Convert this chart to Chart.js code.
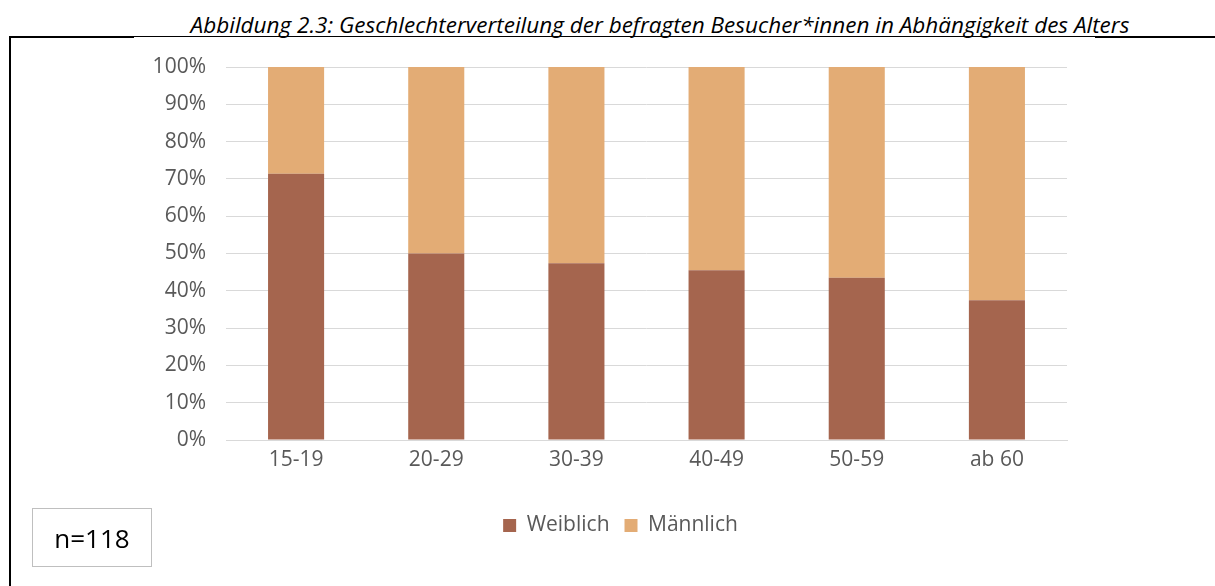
<!DOCTYPE html>
<html>
<head>
<meta charset="utf-8">
<script src="https://cdn.jsdelivr.net/npm/chart.js@4/dist/chart.umd.min.js"></script>
<style>
  html, body { margin: 0; padding: 0; background: #fff; }
  #wrap { position: relative; width: 1215px; height: 586px; overflow: hidden; }
  #title {
    position: absolute; left: 0; top: 10px; width: 1320px; text-align: center; white-space: nowrap;
    font-family: "Open Sans", sans-serif; font-style: italic; font-size: 22.5px; line-height: 30px; color: #000;
  }
  .line { position: absolute; background: #000; }
  #nbox {
    position: absolute; left: 32px; top: 508px; width: 120px; height: 59px;
    border: 1px solid #bfbfbf; box-sizing: border-box;
    font-family: "Open Sans", sans-serif; font-size: 26px; color: #000;
    display: flex; align-items: center; justify-content: center;
  }
  canvas { position: absolute; left: 0; top: 0; }
</style>
</head>
<body>
<div id="wrap">
  <div id="title">Abbildung 2.3: Geschlechterverteilung der befragten Besucher*innen in Abhängigkeit des Alters</div>
  <div class="line" style="left:9px; top:36px; width:1206px; height:1px;"></div>
  <div class="line" style="left:9px; top:36px; width:125px; height:2px;"></div>
  <div class="line" style="left:1095px; top:36px; width:120px; height:2px;"></div>
  <div class="line" style="left:9px; top:36px; width:2px; height:550px;"></div>
  <canvas id="chart" width="1215" height="586"></canvas>
  <div id="nbox">n=118</div>
</div>
<script>
'use strict';

/* data */
let ageGroups = ['15-19', '20-29', '30-39', '40-49', '50-59', 'ab 60'];
let femaleShare = [71.4, 50.0, 47.4, 45.5, 43.5, 37.5];
let maleShare = [28.6, 50.0, 52.6, 54.5, 56.5, 62.5];
let yTicks = [0, 10, 20, 30, 40, 50, 60, 70, 80, 90, 100];

const fontFamily = '"Open Sans", sans-serif';

//  nudge the legend so it sits centred under the page like the original
const legendShift = {
  id: 'legendShift',
  afterUpdate(chart) {
    const lg = chart.legend;
    lg.left += 37;
    lg.right += 37;
    lg.adjustHitBoxes();
  }
};

const data = {
  labels: ageGroups,
  datasets: [{
    label: 'Weiblich',
    backgroundColor: '#a5654e',
    data: femaleShare,
    barPercentage: 0.8,
    categoryPercentage: 0.5
  },
  {
    label: 'Männlich',
    backgroundColor: '#e3ac75',
    data: maleShare,
    barPercentage: 0.8,
    categoryPercentage: 0.5
  }]
};

const config = {
  type: 'bar',
  data: data,
  plugins: [legendShift],
  options: {
    responsive: false,
    animation: false,
    layout: { padding: { left: 100, right: 148, top: 67, bottom: 40 } },
    scales: {
      x: {
        stacked: true,
        grid: { display: false, drawTicks: false },
        border: { display: true, color: '#d9d9d9', width: 1 },
        ticks: { color: '#595959', font: { family: fontFamily, size: 21 }, padding: 7 },
        afterFit: function (scale) { scale.height = 60; }
      },
      y: {
        stacked: true,
        min: 0,
        max: 100,
        afterBuildTicks: function (scale) { scale.ticks = yTicks.map(v => ({ value: v })); },
        grid: { color: '#d9d9d9', drawTicks: false },
        border: { display: false },
        ticks: {
          color: '#595959',
          font: { family: fontFamily, size: 21 },
          padding: 20,
          callback: v => v + '%'
        },
        afterFit: function (scale) { scale.width = 126; }
      }
    },
    plugins: {
      tooltip: { enabled: false },
      legend: {
        position: 'bottom',
        labels: {
          color: '#595959',
          font: { family: fontFamily, size: 21 },
          boxWidth: 13,
          boxHeight: 13,
          padding: 15
        }
      }
    }
  }
};

const chart = new Chart(document.getElementById('chart'), config);
</script>
</body>
</html>
